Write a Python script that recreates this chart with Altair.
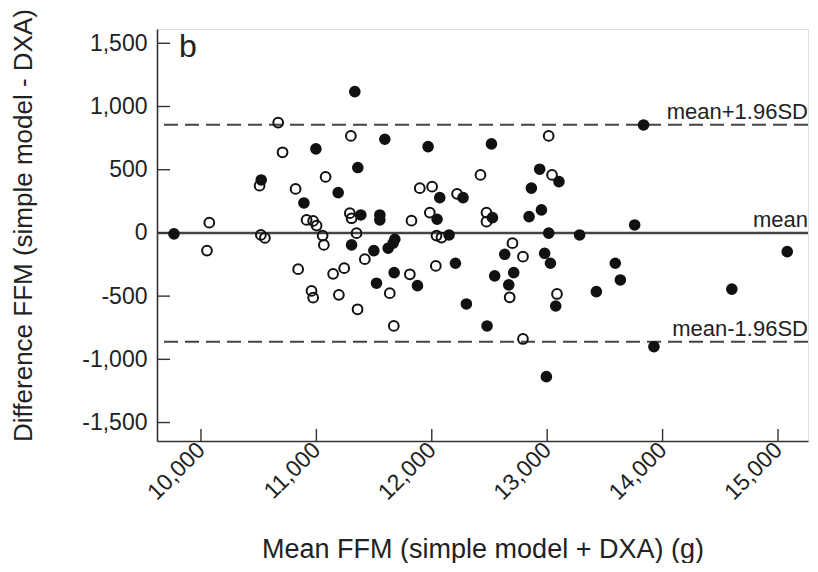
import altair as alt
import pandas as pd

# Filled circles (one group)
filled_x = [9766, 11333, 10996, 11359, 10522, 11189, 10892, 11305, 11593, 11968,
            12517, 12935, 13102, 12863, 12069, 12271, 11385, 11550, 11550, 12046,
            12526, 12843, 12950, 13013, 11680, 11665, 11622, 11498, 11674, 11521,
            11876, 12150, 12205, 12300, 12479, 12632, 12710, 12545, 12667, 12978,
            13028, 13074, 12993, 13281, 13835, 13758, 13590, 13634, 13426, 14600,
            15080, 13925]
filled_y = [-8, 1118, 665, 517, 419, 319, 237, -95, 741, 683,
            704, 504, 406, 354, 279, 279, 142, 142, 103, 108,
            121, 129, 182, -2, -50, -81, -121, -140, -314, -398,
            -417, -16, -240, -562, -736, -169, -314, -340, -411, -161,
            -240, -578, -1137, -16, 854, 63, -240, -372, -464, -445,
            -148, -900]

# Open circles (other group)
open_x = [10669, 11299, 10707, 10508, 11080, 10820, 11290, 11305, 11348, 10915,
          10972, 11002, 11054, 11065, 10072, 10052, 10519, 10554, 11420, 10842,
          11145, 11241, 10958, 10972, 11195, 11357, 13013, 13042, 12422, 11896,
          12003, 12219, 11824, 11983, 12474, 12474, 12041, 12084, 11810, 11636,
          12035, 11671, 12699, 12790, 12675, 13085, 12790]
open_y = [873, 767, 638, 374, 443, 348, 156, 116, -2, 103,
          95, 58, -21, -95, 81, -140, -16, -40, -208, -287,
          -324, -279, -459, -512, -490, -604, 767, 459, 459, 354,
          366, 309, 97, 161, 161, 89, -21, -37, -327, -477,
          -261, -736, -81, -188, -509, -483, -839]

# Agreement limits
line_names = ["mean+1.96SD", "mean", "mean-1.96SD"]
line_values = [855, 0, -860]
line_dashed = [True, False, True]

x_ticks = [10000, 11000, 12000, 13000, 14000, 15000]
y_ticks = [-1500, -1000, -500, 0, 500, 1000, 1500]

W, H = 651, 412
FONT = "Liberation Sans"
xs = alt.Scale(domain=[9619, 15260], nice=False, zero=False)
ys = alt.Scale(domain=[-1646, 1613], nice=False, zero=False)

filled_df = pd.DataFrame({"x": filled_x, "y": filled_y})
open_df = pd.DataFrame({"x": open_x, "y": open_y})
lines_df = pd.DataFrame({"name": line_names, "v": line_values, "dashed": line_dashed})
xt_df = pd.DataFrame({"v": x_ticks})
yt_df = pd.DataFrame({"v": y_ticks})

LABEL_EXPR = "replace(format(datum.value, ',d'), '\u2212', '-')"

x_axis = alt.Axis(values=x_ticks, format=",d", labelExpr=LABEL_EXPR, labelAngle=-45,
                  labelAlign="right", labelBaseline="middle", labelPadding=5,
                  ticks=False, tickSize=0,
                  grid=False, labelFontSize=23, labelColor="#222", labelFont=FONT,
                  title="Mean FFM (simple model + DXA) (g)", titleFontSize=27,
                  titleFont=FONT, titleFontWeight="normal", titleColor="#222",
                  titleY=116, titleBaseline="alphabetic",
                  domainColor="#333", domainWidth=1.6)
y_axis = alt.Axis(values=y_ticks, format=",d", labelExpr=LABEL_EXPR,
                  ticks=False, tickSize=0, grid=False,
                  labelPadding=10, labelFontSize=23, labelColor="#222", labelFont=FONT,
                  title="Difference FFM (simple model - DXA)", titleFontSize=26,
                  titleFont=FONT, titleFontWeight="normal", titleColor="#222",
                  titleX=-134, titleY=196, titleBaseline="middle",
                  domainColor="#333", domainWidth=1.6)

X = lambda f: alt.X(f, scale=xs, axis=x_axis)
Y = lambda f: alt.Y(f, scale=ys, axis=y_axis)

base_pts = alt.Chart(filled_df).mark_point(
    shape="circle", filled=True, size=135, color="#111", opacity=1
).encode(x=X("x:Q"), y=Y("y:Q"))

open_pts = alt.Chart(open_df).mark_point(
    shape="circle", filled=False, size=95, color="#111", strokeWidth=2, opacity=1
).encode(x=X("x:Q"), y=Y("y:Q"))

solid = alt.Chart(lines_df[~lines_df["dashed"]]).mark_rule(
    color="#444", strokeWidth=2.5
).encode(y=Y("v:Q"))

dashed = alt.Chart(lines_df[lines_df["dashed"]]).mark_rule(
    color="#444", strokeWidth=2, strokeDash=[14, 7]
).encode(y=Y("v:Q"))

labels = alt.Chart(lines_df).mark_text(
    align="right", baseline="alphabetic", dy=-6, fontSize=22, font=FONT, color="#222"
).encode(x=alt.value(W), y=Y("v:Q"), text="name:N")

xtick_rules = alt.Chart(xt_df).mark_rule(color="#333", strokeWidth=1.4).encode(
    x=X("v:Q"), y=alt.value(H), y2=alt.value(H - 12)
)
ytick_rules = alt.Chart(yt_df).mark_rule(color="#333", strokeWidth=1.4).encode(
    y=Y("v:Q"), x=alt.value(0), x2=alt.value(13)
)

panel = alt.Chart(pd.DataFrame({"t": ["b"]})).mark_text(
    align="left", baseline="alphabetic", fontSize=32, font=FONT, color="#222"
).encode(x=alt.value(22), y=alt.value(28), text="t:N")

chart = alt.layer(
    dashed, solid, xtick_rules, ytick_rules, open_pts, base_pts, labels, panel
).properties(
    width=W, height=H,
    autosize=alt.AutoSizeParams(type="none"),
    padding={"left": 149, "top": 21, "right": 2, "bottom": 122},
).configure_view(stroke=None).configure(background="white")

chart.save("out.html", embed_options={"renderer": "svg", "actions": False})
